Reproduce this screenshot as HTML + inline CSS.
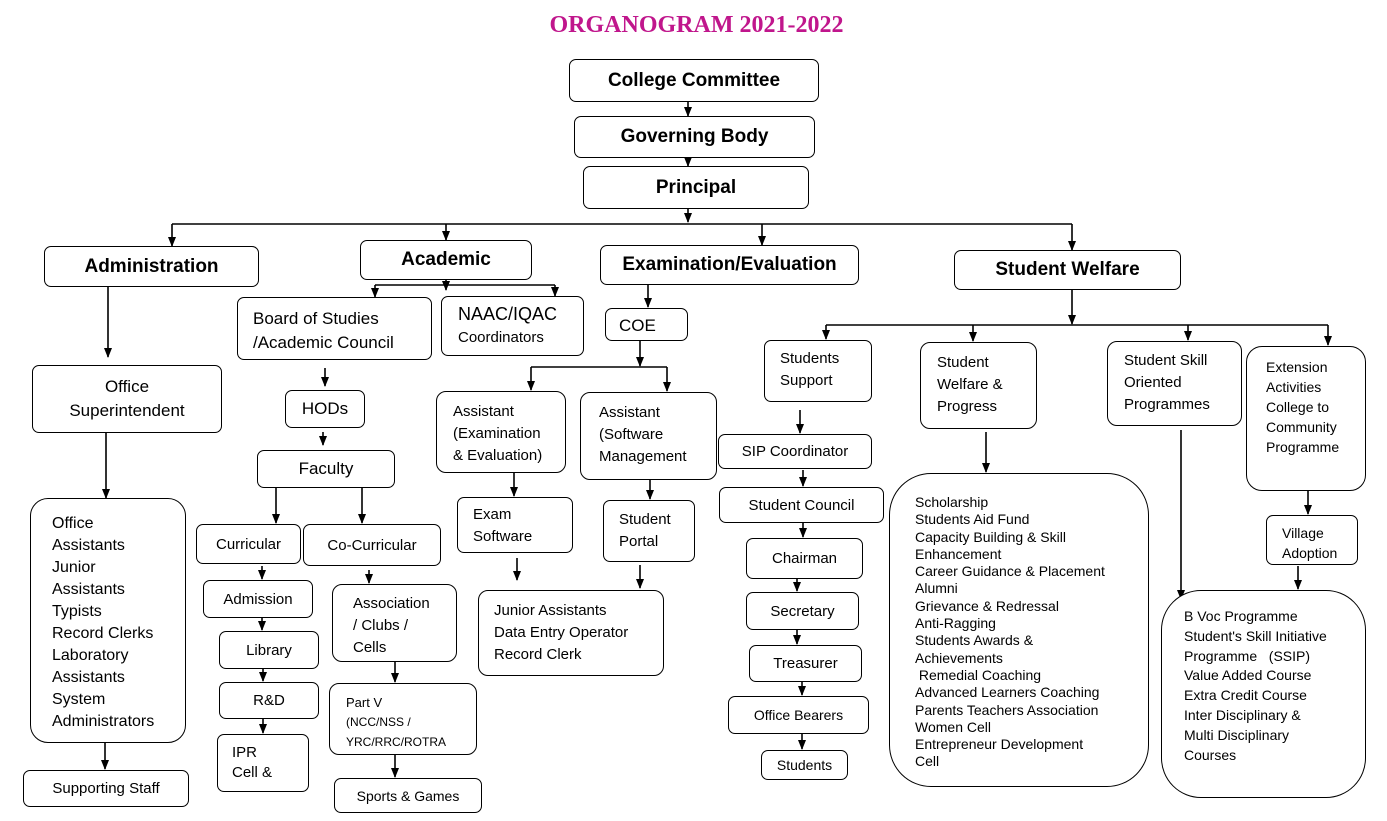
<!DOCTYPE html>
<html><head><meta charset="utf-8"><style>
body{margin:0;background:#fff;width:1387px;height:821px;position:relative;overflow:hidden;font-family:"Liberation Sans",Arial,sans-serif;color:#000}
.b{position:absolute;border:1.5px solid #000;border-radius:7px;box-sizing:border-box;background:#fff}
.c{display:flex;align-items:center;justify-content:center;text-align:center}
.h{font-weight:bold;font-size:19px}
.t{font-size:16px;line-height:22px}
.s{font-size:14px;line-height:17.3px}
svg{position:absolute;left:0;top:0}
</style></head><body>
<div style="position:absolute;left:0;width:1387px;top:12px;text-align:center;padding-left:3px;font-family:'Liberation Serif',serif;font-weight:bold;font-size:24px;color:#c0168c">ORGANOGRAM 2021-2022</div>
<svg width="1387" height="821">
<defs><marker id="a" markerWidth="8" markerHeight="10" refX="4" refY="9" orient="auto" markerUnits="userSpaceOnUse"><path d="M0,0 L8,0 L4,10 z" fill="#000" transform="rotate(-90 4 5) translate(0 0)"/></marker>
<marker id="m" markerWidth="10" markerHeight="10" refX="9" refY="5" orient="auto" markerUnits="userSpaceOnUse"><path d="M0,1 L10,5 L0,9 z" fill="#000"/></marker></defs>
<g stroke="#000" stroke-width="1.6" fill="none" marker-end="url(#m)">
<line x1="688" y1="102" x2="688" y2="116"/>
<line x1="688" y1="158" x2="688" y2="166"/>
<line x1="688" y1="209" x2="688" y2="222"/>
<line x1="172" y1="224" x2="172" y2="246"/>
<line x1="446" y1="224" x2="446" y2="240"/>
<line x1="762" y1="224" x2="762" y2="245"/>
<line x1="1072" y1="224" x2="1072" y2="250"/>
<line x1="108" y1="287" x2="108" y2="357"/>
<line x1="106" y1="433" x2="106" y2="498"/>
<line x1="105" y1="743" x2="105" y2="769"/>
<line x1="446" y1="280" x2="446" y2="290"/>
<line x1="375" y1="285" x2="375" y2="297"/>
<line x1="555" y1="285" x2="555" y2="296"/>
<line x1="325" y1="368" x2="325" y2="386"/>
<line x1="323" y1="432" x2="323" y2="445"/>
<line x1="276" y1="488" x2="276" y2="523"/>
<line x1="362" y1="488" x2="362" y2="523"/>
<line x1="262" y1="566" x2="262" y2="579"/>
<line x1="262" y1="618" x2="262" y2="630"/>
<line x1="263" y1="669" x2="263" y2="681"/>
<line x1="263" y1="719" x2="263" y2="733"/>
<line x1="369" y1="570" x2="369" y2="583"/>
<line x1="395" y1="662" x2="395" y2="682"/>
<line x1="395" y1="755" x2="395" y2="777"/>
<line x1="648" y1="285" x2="648" y2="307"/>
<line x1="640" y1="341" x2="640" y2="366"/>
<line x1="531" y1="367" x2="531" y2="390"/>
<line x1="667" y1="367" x2="667" y2="391"/>
<line x1="514" y1="473" x2="514" y2="496"/>
<line x1="650" y1="480" x2="650" y2="499"/>
<line x1="517" y1="558" x2="517" y2="580"/>
<line x1="640" y1="565" x2="640" y2="588"/>
<line x1="1072" y1="290" x2="1072" y2="324"/>
<line x1="826" y1="325" x2="826" y2="339"/>
<line x1="973" y1="325" x2="973" y2="341"/>
<line x1="1188" y1="325" x2="1188" y2="340"/>
<line x1="1328" y1="325" x2="1328" y2="345"/>
<line x1="800" y1="410" x2="800" y2="433"/>
<line x1="803" y1="470" x2="803" y2="486"/>
<line x1="803" y1="523" x2="803" y2="537"/>
<line x1="797" y1="579" x2="797" y2="591"/>
<line x1="797" y1="630" x2="797" y2="644"/>
<line x1="802" y1="682" x2="802" y2="695"/>
<line x1="802" y1="734" x2="802" y2="749"/>
<line x1="986" y1="432" x2="986" y2="472"/>
<line x1="1181" y1="430" x2="1181" y2="599"/>
<line x1="1308" y1="491" x2="1308" y2="514"/>
<line x1="1298" y1="566" x2="1298" y2="589"/>
</g>
<g stroke="#000" stroke-width="1.6">
<line x1="172" y1="224" x2="1072" y2="224"/>
<line x1="375" y1="285" x2="555" y2="285"/>
<line x1="531" y1="367" x2="667" y2="367"/>
<line x1="826" y1="325" x2="1328" y2="325"/>
</g>
</svg>
<div class="b c h" style="left:569px;top:59px;width:250px;height:43px">College Committee</div>
<div class="b c h" style="left:574px;top:116px;width:241px;height:42px">Governing Body</div>
<div class="b c h" style="left:583px;top:166px;width:226px;height:43px">Principal</div>
<div class="b c h" style="left:44px;top:246px;width:215px;height:41px">Administration</div>
<div class="b c h" style="left:360px;top:240px;width:172px;height:40px">Academic</div>
<div class="b c h" style="left:600px;top:245px;width:259px;height:40px">Examination/Evaluation</div>
<div class="b c h" style="left:954px;top:250px;width:227px;height:40px">Student Welfare</div>
<div class="b c" style="left:32px;top:365px;width:190px;height:68px;font-size:17px;line-height:24px">Office<br>Superintendent</div>
<div class="b t" style="left:30px;top:498px;width:156px;height:245px;padding:14px 0 0 21px;border-radius:18px">Office<br>Assistants<br>Junior<br>Assistants<br>Typists<br>Record Clerks<br>Laboratory<br>Assistants<br>System<br>Administrators</div>
<div class="b c" style="left:23px;top:770px;width:166px;height:37px;font-size:15px">Supporting Staff</div>
<div class="b" style="left:237px;top:297px;width:195px;height:63px;font-size:17px;line-height:24px;padding:9px 0 0 15px">Board of Studies<br>/Academic Council</div>
<div class="b" style="left:441px;top:296px;width:143px;height:60px;padding:7px 0 0 16px"><span style="font-size:18px">NAAC/IQAC</span><br><span style="font-size:15px;line-height:26px">Coordinators</span></div>
<div class="b c" style="left:285px;top:390px;width:80px;height:38px;font-size:17px">HODs</div>
<div class="b c" style="left:257px;top:450px;width:138px;height:38px;font-size:17px">Faculty</div>
<div class="b c" style="left:196px;top:524px;width:105px;height:40px;font-size:15px">Curricular</div>
<div class="b c" style="left:303px;top:524px;width:138px;height:42px;font-size:15px">Co-Curricular</div>
<div class="b c" style="left:203px;top:580px;width:110px;height:38px;font-size:15px">Admission</div>
<div class="b c" style="left:219px;top:631px;width:100px;height:38px;font-size:15px">Library</div>
<div class="b c" style="left:219px;top:682px;width:100px;height:37px;font-size:15px">R&amp;D</div>
<div class="b" style="left:217px;top:734px;width:92px;height:58px;font-size:15px;line-height:20px;padding:8px 0 0 14px">IPR<br>Cell &amp;</div>
<div class="b" style="left:332px;top:584px;width:125px;height:78px;font-size:15px;line-height:22px;padding:8px 0 0 20px;border-radius:10px">Association<br>/ Clubs /<br>Cells</div>
<div class="b" style="left:329px;top:683px;width:148px;height:72px;font-size:13px;line-height:19px;padding:9px 0 0 16px;border-radius:10px">Part V<br><span style="font-size:12px">(NCC/NSS /<br>YRC/RRC/ROTRA</span></div>
<div class="b c" style="left:334px;top:778px;width:148px;height:35px;font-size:14px">Sports &amp; Games</div>
<div class="b" style="left:605px;top:308px;width:83px;height:33px;font-size:17px;padding:7px 0 0 13px">COE</div>
<div class="b t" style="left:436px;top:391px;width:130px;height:82px;font-size:15px;padding:9px 0 0 16px;border-radius:10px">Assistant<br>(Examination<br>&amp; Evaluation)</div>
<div class="b t" style="left:580px;top:392px;width:137px;height:88px;font-size:15px;padding:9px 0 0 18px;border-radius:10px">Assistant<br>(Software<br>Management</div>
<div class="b t" style="left:457px;top:497px;width:116px;height:56px;font-size:15px;padding:6px 0 0 15px">Exam<br>Software</div>
<div class="b t" style="left:603px;top:500px;width:92px;height:62px;font-size:15px;padding:8px 0 0 15px">Student<br>Portal</div>
<div class="b t" style="left:478px;top:590px;width:186px;height:86px;font-size:15px;padding:9px 0 0 15px;border-radius:10px">Junior Assistants<br>Data Entry Operator<br>Record Clerk</div>
<div class="b t" style="left:764px;top:340px;width:108px;height:62px;font-size:15px;padding:7px 0 0 15px">Students<br>Support</div>
<div class="b c" style="left:718px;top:434px;width:154px;height:35px;font-size:15px">SIP Coordinator</div>
<div class="b c" style="left:719px;top:487px;width:165px;height:36px;font-size:15px">Student Council</div>
<div class="b c" style="left:746px;top:538px;width:117px;height:41px;font-size:15px">Chairman</div>
<div class="b c" style="left:746px;top:592px;width:113px;height:38px;font-size:15px">Secretary</div>
<div class="b c" style="left:749px;top:645px;width:113px;height:37px;font-size:15px">Treasurer</div>
<div class="b c" style="left:728px;top:696px;width:141px;height:38px;font-size:14px">Office Bearers</div>
<div class="b c" style="left:761px;top:750px;width:87px;height:30px;font-size:14px">Students</div>
<div class="b t" style="left:920px;top:342px;width:117px;height:87px;font-size:15px;padding:9px 0 0 16px;border-radius:10px">Student<br>Welfare &amp;<br>Progress</div>
<div class="b s" style="left:889px;top:473px;width:260px;height:314px;padding:20px 0 0 25px;border-radius:42px">Scholarship<br>Students Aid Fund<br>Capacity Building &amp; Skill<br>Enhancement<br>Career Guidance &amp; Placement<br>Alumni<br>Grievance &amp; Redressal<br>Anti-Ragging<br>Students Awards &amp;<br>Achievements<br>&nbsp;Remedial Coaching<br>Advanced Learners Coaching<br>Parents Teachers Association<br>Women Cell<br>Entrepreneur Development<br>Cell</div>
<div class="b t" style="left:1107px;top:341px;width:135px;height:85px;font-size:15px;padding:8px 0 0 16px;border-radius:10px">Student Skill<br>Oriented<br>Programmes</div>
<div class="b" style="left:1246px;top:346px;width:120px;height:145px;font-size:14px;line-height:20px;padding:10px 0 0 19px;border-radius:16px">Extension<br>Activities<br>College to<br>Community<br>Programme</div>
<div class="b" style="left:1266px;top:515px;width:92px;height:50px;font-size:14px;line-height:20px;padding:7px 0 0 15px;overflow:hidden">Village<br>Adoption</div>
<div class="b s" style="left:1161px;top:590px;width:205px;height:208px;line-height:19.8px;padding:16px 0 0 22px;border-radius:40px">B Voc Programme<br>Student's Skill Initiative<br>Programme &nbsp;&nbsp;(SSIP)<br>Value Added Course<br>Extra Credit Course<br>Inter Disciplinary &amp;<br>Multi Disciplinary<br>Courses</div>
</body></html>
